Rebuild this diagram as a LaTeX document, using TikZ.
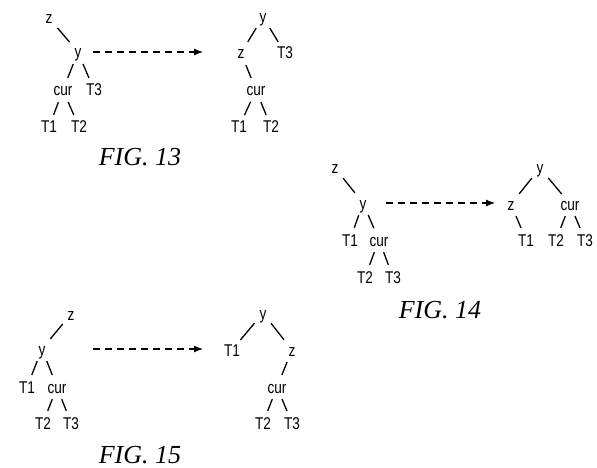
\documentclass[tikz,border=0pt]{standalone}
\usepackage{fontspec}
\usetikzlibrary{arrows.meta}
\newfontfamily\labfamily[FakeStretch=0.8]{Liberation Sans}
\newfontfamily\capfamily{Liberation Serif}
\begin{document}
\begin{tikzpicture}[x=1pt,y=-1pt,
  lab/.style={font=\labfamily\fontsize{17}{17}\selectfont, inner sep=0pt, text height=12pt, text depth=0pt},
  figcap/.style={font=\capfamily\itshape\fontsize{26}{26}\selectfont, inner sep=0pt},
  treeedge/.style={line width=1.3pt, shorten <=13pt, shorten >=13pt},
  movearrow/.style={line width=1.1pt, dash pattern=on 7pt off 5pt, -{Latex[length=9pt,width=7pt]}}]
\useasboundingbox (0,0) rectangle (597,468);
% ---------- FIG 13 ----------
\node[lab] (a13z) at (49,18) {z};
\node[lab] (a13y) at (78,52) {y};
\node[lab] (a13cur) at (63,90) {cur};
\node[lab] (a13T3) at (94,90) {T3};
\node[lab] (a13T1) at (49,127) {T1};
\node[lab] (a13T2) at (79,127) {T2};
\draw[treeedge] (a13z.center) -- (a13y.center);
\draw[treeedge] (a13y.center) -- (a13cur.center);
\draw[treeedge] (a13y.center) -- (a13T3.center);
\draw[treeedge] (a13cur.center) -- (a13T1.center);
\draw[treeedge] (a13cur.center) -- (a13T2.center);
\node[lab] (b13y) at (263,17) {y};
\node[lab] (b13z) at (241,53) {z};
\node[lab] (b13T3) at (285,53) {T3};
\node[lab] (b13cur) at (256,90) {cur};
\node[lab] (b13T1) at (239,127) {T1};
\node[lab] (b13T2) at (271,127) {T2};
\draw[treeedge] (b13y.center) -- (b13z.center);
\draw[treeedge] (b13y.center) -- (b13T3.center);
\draw[treeedge] (b13z.center) -- (b13cur.center);
\draw[treeedge] (b13cur.center) -- (b13T1.center);
\draw[treeedge] (b13cur.center) -- (b13T2.center);
\draw[movearrow, shorten <=15pt, shorten >=38pt] (a13y.center) -- (a13y.center -| b13z.center);
\node[figcap] (c13) at (140,157) {FIG. 13};
% ---------- FIG 14 ----------
\node[lab] (a14z) at (335,168) {z};
\node[lab] (a14y) at (363,203) {y};
\node[lab] (a14T1) at (350,240) {T1};
\node[lab] (a14cur) at (379,240) {cur};
\node[lab] (a14T2) at (365,277) {T2};
\node[lab] (a14T3) at (393,277) {T3};
\draw[treeedge] (a14z.center) -- (a14y.center);
\draw[treeedge] (a14y.center) -- (a14T1.center);
\draw[treeedge] (a14y.center) -- (a14cur.center);
\draw[treeedge] (a14cur.center) -- (a14T2.center);
\draw[treeedge] (a14cur.center) -- (a14T3.center);
\node[lab] (b14y) at (540,168) {y};
\node[lab] (b14z) at (511,204) {z};
\node[lab] (b14cur) at (570,204) {cur};
\node[lab] (b14T1) at (526,240) {T1};
\node[lab] (b14T2) at (556,240) {T2};
\node[lab] (b14T3) at (585,240) {T3};
\draw[treeedge] (b14y.center) -- (b14z.center);
\draw[treeedge] (b14y.center) -- (b14cur.center);
\draw[treeedge] (b14z.center) -- (b14T1.center);
\draw[treeedge] (b14cur.center) -- (b14T2.center);
\draw[treeedge] (b14cur.center) -- (b14T3.center);
\draw[movearrow, shorten <=23pt, shorten >=16pt] (a14y.center) -- (a14y.center -| b14z.center);
\node[figcap] (c14) at (440,310) {FIG. 14};
% ---------- FIG 15 ----------
\node[lab] (a15z) at (71,314) {z};
\node[lab] (a15y) at (42,349) {y};
\node[lab] (a15T1) at (27,387) {T1};
\node[lab] (a15cur) at (57,387) {cur};
\node[lab] (a15T2) at (43,423) {T2};
\node[lab] (a15T3) at (71,423) {T3};
\draw[treeedge] (a15z.center) -- (a15y.center);
\draw[treeedge] (a15y.center) -- (a15T1.center);
\draw[treeedge] (a15y.center) -- (a15cur.center);
\draw[treeedge] (a15cur.center) -- (a15T2.center);
\draw[treeedge] (a15cur.center) -- (a15T3.center);
\node[lab] (b15y) at (263,313) {y};
\node[lab] (b15T1) at (232,350) {T1};
\node[lab] (b15z) at (292,350) {z};
\node[lab] (b15cur) at (277,387) {cur};
\node[lab] (b15T2) at (263,423) {T2};
\node[lab] (b15T3) at (292,423) {T3};
\draw[treeedge] (b15y.center) -- (b15T1.center);
\draw[treeedge] (b15y.center) -- (b15z.center);
\draw[treeedge] (b15z.center) -- (b15cur.center);
\draw[treeedge] (b15cur.center) -- (b15T2.center);
\draw[treeedge] (b15cur.center) -- (b15T3.center);
\draw[movearrow, shorten <=51pt, shorten >=29pt] (a15y.center) -- (a15y.center -| b15T1.center);
\node[figcap] (c15) at (140,455) {FIG. 15};
\end{tikzpicture}
\end{document}
